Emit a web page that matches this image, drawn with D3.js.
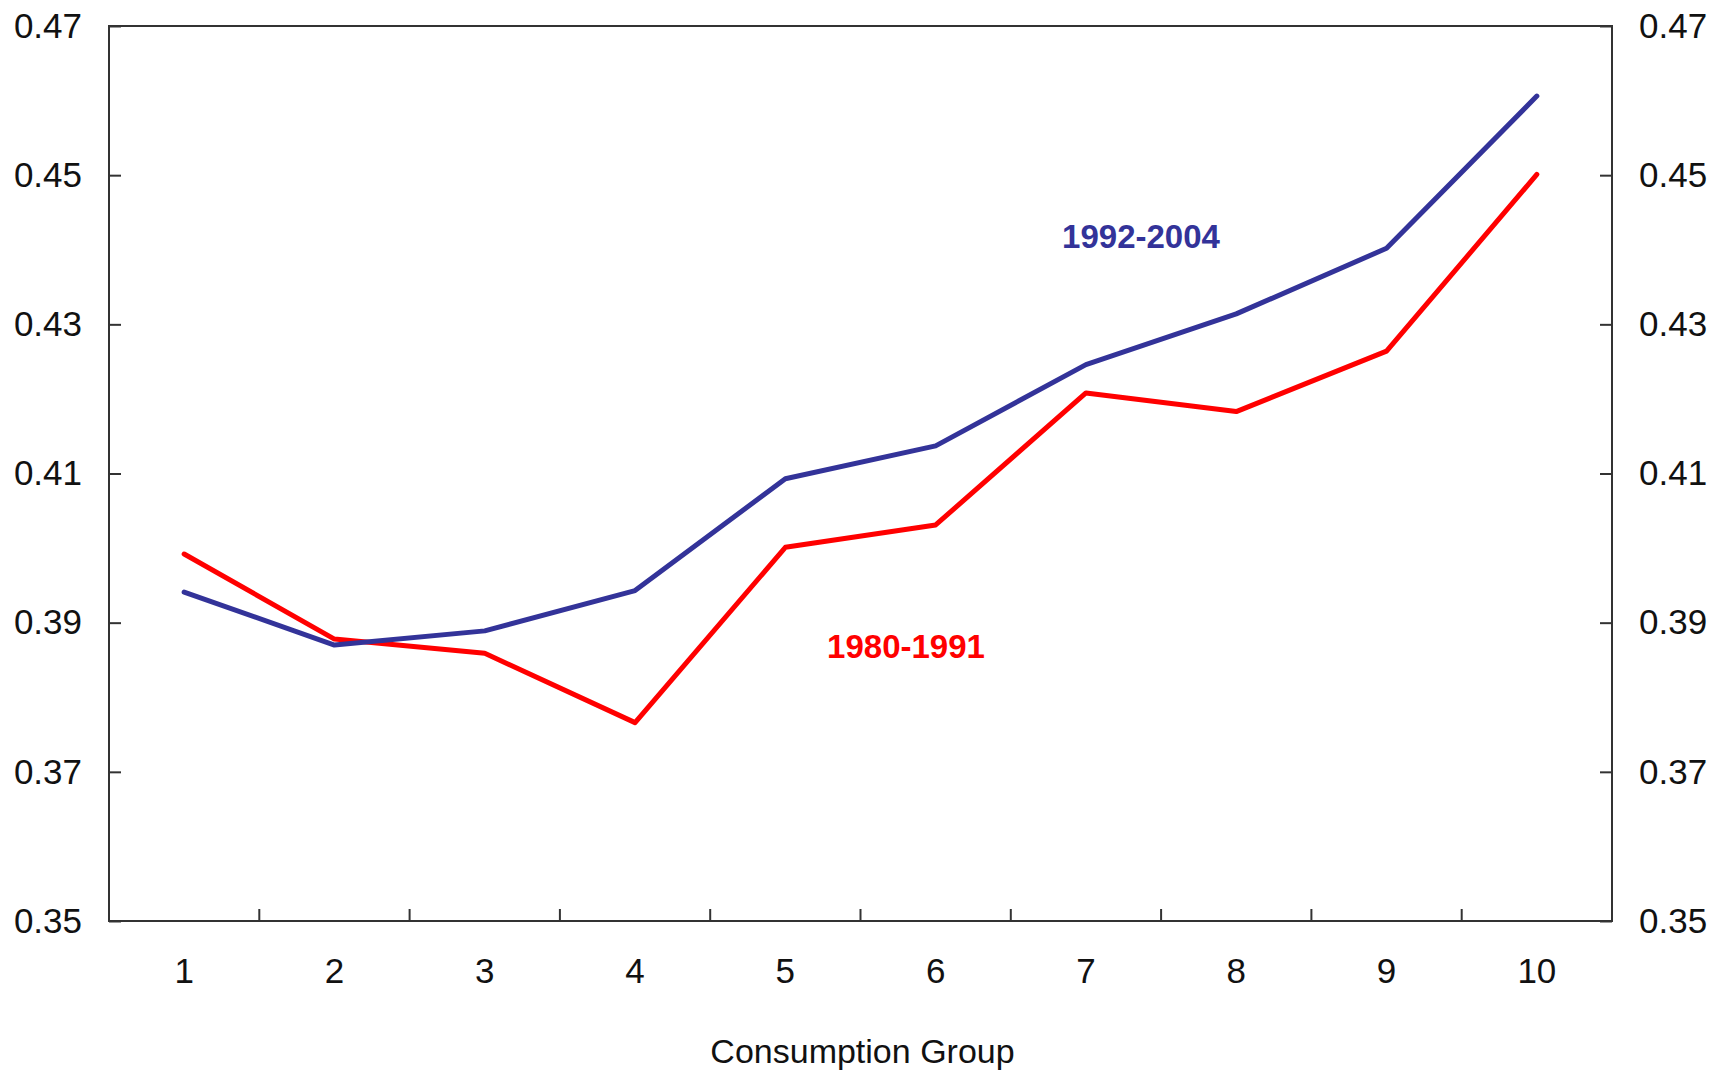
<!DOCTYPE html>
<html>
<head>
<meta charset="utf-8">
<script src="https://cdn.jsdelivr.net/npm/d3@7"></script>
<style>
  body { margin: 0; background: #fff; }
  svg { display: block; font-family: Arial, "Liberation Sans", sans-serif; }
</style>
</head>
<body>
<div id="chart"></div>
<script>
var groups = ["1", "2", "3", "4", "5", "6", "7", "8", "9", "10"];
var yTicks = [0.35, 0.37, 0.39, 0.41, 0.43, 0.45, 0.47];
var late = [0.3941, 0.3870, 0.3889, 0.3943, 0.4093, 0.4137, 0.4246, 0.4314, 0.4402, 0.4606];   // 1992-2004
var early = [0.3992, 0.3878, 0.3859, 0.3766, 0.4001, 0.4031, 0.4208, 0.4183, 0.4264, 0.4501];  // 1980-1991

var W = 1711, H = 1070;
var margin = {top: 26, right: 99, bottom: 149, left: 109};
var width = W - margin.left - margin.right;
var height = H - margin.top - margin.bottom;

var svg = d3.select("#chart").append("svg")
    .attr("width", W)
    .attr("height", H);
var g = svg.append("g")
    .attr("transform", "translate(" + margin.left + "," + margin.top + ")");

var xBand = d3.scaleBand().domain(groups).range([0, width]);
var xPos = function(i) { return xBand(groups[i]) + xBand.bandwidth() / 2; };
var y = d3.scaleLinear().domain([0.35, 0.47]).range([height, 0]);

// frame
g.append("rect")
    .attr("width", width).attr("height", height)
    .attr("fill", "none").attr("stroke", "#333").attr("stroke-width", 2);

// y axes, ticks pointing inward
function styleAxis(sel) {
    sel.select(".domain").remove();
    sel.selectAll(".tick line").attr("stroke", "#333").attr("stroke-width", 2);
    sel.selectAll(".tick text").attr("fill", "#111").style("font-size", "35px");
}
g.append("g")
    .call(d3.axisLeft(y).tickValues(yTicks).tickFormat(d3.format(".2f"))
        .tickSizeInner(-12).tickSizeOuter(0).tickPadding(27))
    .call(styleAxis);
g.append("g")
    .attr("transform", "translate(" + width + ",0)")
    .call(d3.axisRight(y).tickValues(yTicks).tickFormat(d3.format(".2f"))
        .tickSizeInner(-12).tickSizeOuter(0).tickPadding(27))
    .call(styleAxis);

// x axis: labels at band centres, tick marks at band boundaries
var xAxisG = g.append("g").attr("transform", "translate(0," + height + ")");
xAxisG.selectAll("line.bound")
    .data(groups.slice(1))
    .enter().append("line")
    .attr("x1", function(d) { return xBand(d); })
    .attr("x2", function(d) { return xBand(d); })
    .attr("y1", 0).attr("y2", -12)
    .attr("stroke", "#333").attr("stroke-width", 2);
xAxisG.selectAll("text.lab")
    .data(groups)
    .enter().append("text")
    .attr("x", function(d, i) { return xPos(i); })
    .attr("y", 62)
    .attr("text-anchor", "middle")
    .attr("fill", "#111")
    .style("font-size", "35px")
    .text(function(d) { return d; });

svg.append("text")
    .attr("x", margin.left + width / 2 + 2)
    .attr("y", 1063)
    .attr("text-anchor", "middle")
    .attr("fill", "#111")
    .style("font-size", "34px")
    .text("Consumption Group");

var line = d3.line()
    .x(function(d, i) { return xPos(i); })
    .y(function(d) { return y(d); });

g.append("path").datum(early)
    .attr("fill", "none").attr("stroke", "#ff0000").attr("stroke-width", 5)
    .attr("stroke-linejoin", "round").attr("stroke-linecap", "round").attr("d", line);
g.append("path").datum(late)
    .attr("fill", "none").attr("stroke", "#333399").attr("stroke-width", 5)
    .attr("stroke-linejoin", "round").attr("stroke-linecap", "round").attr("d", line);

svg.append("text")
    .attr("x", 1141).attr("y", 248)
    .attr("text-anchor", "middle")
    .attr("fill", "#333399")
    .style("font-size", "33px").style("font-weight", "bold")
    .text("1992-2004");
svg.append("text")
    .attr("x", 906).attr("y", 658)
    .attr("text-anchor", "middle")
    .attr("fill", "#ff0000")
    .style("font-size", "33px").style("font-weight", "bold")
    .text("1980-1991");
</script>
</body>
</html>
